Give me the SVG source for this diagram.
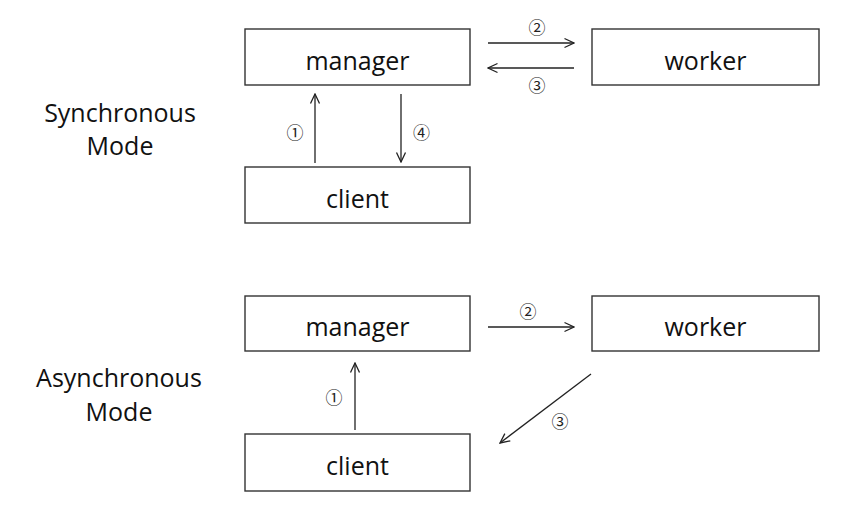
<svg xmlns="http://www.w3.org/2000/svg" width="844" height="513" viewBox="0 0 844 513">
<defs>
<marker id="ah" viewBox="0 0 12 12" refX="11" refY="6" markerWidth="12" markerHeight="12" markerUnits="userSpaceOnUse" orient="auto">
<path d="M1.5,1.5 L11,6 L1.5,10.5" fill="none" stroke="#222" stroke-width="1.3"/>
</marker>
<style>
.box{fill:#fff;stroke:#333;stroke-width:1.4}
.lbl{font-family:"Open Sans","Noto Sans",sans-serif;font-size:25px;fill:#111;text-anchor:middle}
.num{font-family:"Noto Sans CJK KR","DejaVu Sans",sans-serif;font-size:17px;fill:#222;text-anchor:middle}
.conn line{stroke:#222;stroke-width:1.3;marker-end:url(#ah)}
</style>
</defs>
<rect width="844" height="513" fill="#fff"/>
<g id="sync-title"><text class="lbl" x="120" y="122">Synchronous</text><text class="lbl" x="120" y="155">Mode</text></g>
<g id="async-title"><text class="lbl" x="119" y="387">Asynchronous</text><text class="lbl" x="119" y="421">Mode</text></g>
<g id="sync-manager"><rect class="box" x="245" y="29" width="225" height="56"/><text class="lbl" x="357.5" y="70">manager</text></g>
<g id="sync-worker"><rect class="box" x="592" y="29" width="227" height="56"/><text class="lbl" x="705.5" y="70">worker</text></g>
<g id="sync-client"><rect class="box" x="245" y="167" width="225" height="56"/><text class="lbl" x="357.5" y="208">client</text></g>
<g id="async-manager"><rect class="box" x="245" y="296" width="225" height="55"/><text class="lbl" x="357.5" y="336">manager</text></g>
<g id="async-worker"><rect class="box" x="592" y="296" width="227" height="55"/><text class="lbl" x="705.5" y="336">worker</text></g>
<g id="async-client"><rect class="box" x="245" y="434" width="225" height="57"/><text class="lbl" x="357.5" y="475">client</text></g>
<g id="connectors" class="conn">
<line x1="315" y1="163" x2="315" y2="94"/>
<line x1="401" y1="94" x2="401" y2="162"/>
<line x1="488" y1="43" x2="574" y2="43"/>
<line x1="574" y1="68" x2="488" y2="68"/>
<line x1="355" y1="430" x2="355" y2="363"/>
<line x1="488" y1="327" x2="574" y2="327"/>
<line x1="591" y1="374" x2="500" y2="443"/>
</g>
<g id="labels">
<text class="num" x="295" y="139">①</text>
<text class="num" x="421.5" y="139">④</text>
<text class="num" x="537" y="34">②</text>
<text class="num" x="537" y="91.5">③</text>
<text class="num" x="334" y="403.5">①</text>
<text class="num" x="528" y="318">②</text>
<text class="num" x="560" y="428">③</text>
</g>
</svg>
